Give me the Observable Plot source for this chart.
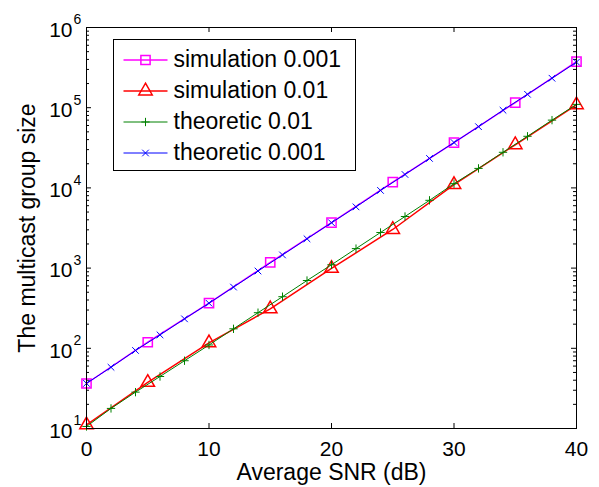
<!DOCTYPE html>
<html>
<head>
<meta charset="utf-8">
<script src="https://cdn.jsdelivr.net/npm/d3@7"></script>
<script src="https://cdn.jsdelivr.net/npm/@observablehq/plot@0.6"></script>
<style>
  html, body { margin: 0; padding: 0; background: white; }
  #chart { width: 599px; height: 487px; }
</style>
</head>
<body>
<div id="chart"></div>
<script>
// ---- data ----
const xSim = [0, 5, 10, 15, 20, 25, 30, 35, 40];
const sim001 = [36.4, 119, 365, 1175, 3700, 11800, 36800, 116000, 376000];
const sim01 = [11.1, 37.5, 117, 310, 990, 3030, 11000, 34500, 108700];

const xTheo = [0, 2, 4, 6, 8, 10, 12, 14, 16, 18, 20, 22, 24, 26, 28, 30, 32, 34, 36, 38, 40];
const theo01 = [10.6, 17.8, 28.4, 44.5, 70, 110, 175, 278, 440, 700, 1100, 1750, 2780, 4400, 7000, 11300, 17500, 27800, 44000, 70000, 110000];
const theo001 = [36.5, 58, 94, 147, 233, 365, 580, 920, 1460, 2320, 3680, 5800, 9300, 14700, 23300, 36800, 58000, 93000, 147000, 233000, 370000];

const seriesNames = ["simulation 0.001", "simulation 0.01", "theoretic 0.01", "theoretic 0.001"];
const seriesColors = ["#ff00ff", "#ff0000", "#008000", "#0000ff"];

const xTickValues = [0, 10, 20, 30, 40];
const xTickLabels = ["0", "10", "20", "30", "40"];
const yTickValues = [10, 100, 1000, 10000, 100000, 1000000];
const yTickBase = "10";
const yTickExponents = ["1", "2", "3", "4", "5", "6"];
const xLabel = "Average SNR (dB)";
const yLabel = "The multicast group size";

// ---- tables ----
const tSim001 = xSim.map((x, i) => ({x, y: sim001[i]}));
const tSim01 = xSim.map((x, i) => ({x, y: sim01[i]}));
const tTheo01 = xTheo.map((x, i) => ({x, y: theo01[i]}));
const tTheo001 = xTheo.map((x, i) => ({x, y: theo001[i]}));
const yMinor = [1, 2, 3, 4, 5].flatMap(k => [2, 3, 4, 5, 6, 7, 8, 9].map(m => m * Math.pow(10, k)));
const yTickTable = yTickValues.map((v, i) => ({v, e: yTickExponents[i]}));
const xTickTable = xTickValues.map((v, i) => ({v, t: xTickLabels[i]}));

const W = 599, H = 487, ML = 86, MR = 23, MT = 27, MB = 59;
const FW = W - ML - MR, FH = H - MT - MB;
const font = "Liberation Sans, Arial, Helvetica, sans-serif";

const markerStyles = [
  {symbol: "square", r: 5.2, strokeWidth: 1.5, lineWidth: 1.5},
  {symbol: "triangle", r: 5.0, strokeWidth: 1.5, lineWidth: 1.5},
  {symbol: "plus", r: 2.8, strokeWidth: 1, lineWidth: 1},
  {symbol: "times", r: 3.1, strokeWidth: 1, lineWidth: 1}
];
const tables = [tSim001, tSim01, tTheo01, tTheo001];

const marks = [];
// ticks (inward, box style)
marks.push(Plot.tickY(yTickValues, {y: d => d, insetRight: FW - 5, stroke: "black"}));
marks.push(Plot.tickY(yTickValues, {y: d => d, insetLeft: FW - 5, stroke: "black"}));
marks.push(Plot.tickY(yMinor, {y: d => d, insetRight: FW - 3, stroke: "black"}));
marks.push(Plot.tickY(yMinor, {y: d => d, insetLeft: FW - 3, stroke: "black"}));
marks.push(Plot.tickX(xTickValues, {x: d => d, insetTop: FH - 5, stroke: "black"}));
marks.push(Plot.tickX(xTickValues, {x: d => d, insetBottom: FH - 5, stroke: "black"}));

// series
tables.forEach((t, i) => {
  const s = markerStyles[i];
  marks.push(Plot.line(t, {x: "x", y: "y", stroke: seriesColors[i], strokeWidth: s.lineWidth}));
  marks.push(Plot.dot(t, {x: "x", y: "y", symbol: s.symbol, r: s.r, stroke: seriesColors[i], fill: "none", strokeWidth: s.strokeWidth}));
});

// frame
marks.push(Plot.frame({stroke: "black", strokeWidth: 1}));

// tick labels
marks.push(Plot.text(xTickTable, {x: "v", text: "t", frameAnchor: "bottom", dy: 21, lineAnchor: "middle", textAnchor: "middle", fontSize: 21, fill: "black"}));
marks.push(Plot.text(yTickTable, {y: "v", text: () => yTickBase, frameAnchor: "left", dx: -14, dy: 2.5, lineAnchor: "middle", textAnchor: "end", fontSize: 21, fill: "black"}));
marks.push(Plot.text(yTickTable, {y: "v", text: "e", frameAnchor: "left", dx: -13, dy: -7.5, lineAnchor: "middle", textAnchor: "start", fontSize: 14, fill: "black"}));

// axis labels
marks.push(Plot.text([xLabel], {text: d => d, frameAnchor: "bottom", dy: 44, lineAnchor: "middle", textAnchor: "middle", fontSize: 23, fill: "black"}));
marks.push(Plot.text([yLabel], {text: d => d, frameAnchor: "left", dx: -59, rotate: -90, lineAnchor: "middle", textAnchor: "middle", fontSize: 23, fill: "black"}));

// legend
marks.push(Plot.frame({insetLeft: 27, insetTop: 12, insetRight: FW - 269, insetBottom: FH - 143, fill: "white", stroke: "black", strokeWidth: 1}));
const lineSymbol = {draw(ctx) { ctx.moveTo(-22, 0); ctx.lineTo(22, 0); }};
const rowDy = [32.5, 63.5, 94.5, 125.5];
seriesNames.forEach((name, i) => {
  const s = markerStyles[i];
  marks.push(Plot.dot([name], {frameAnchor: "top-left", dx: 59, dy: rowDy[i], symbol: lineSymbol, r: 5, stroke: seriesColors[i], fill: "none", strokeWidth: s.lineWidth}));
  marks.push(Plot.dot([name], {frameAnchor: "top-left", dx: 59, dy: rowDy[i], symbol: s.symbol, r: s.r, stroke: seriesColors[i], fill: "none", strokeWidth: s.strokeWidth}));
  marks.push(Plot.text([name], {text: d => d, frameAnchor: "top-left", dx: 87, dy: rowDy[i], lineAnchor: "middle", textAnchor: "start", fontSize: 23, fill: "black"}));
});

const chart = Plot.plot({
  width: W,
  height: H,
  marginLeft: ML,
  marginRight: MR,
  marginTop: MT,
  marginBottom: MB,
  style: {fontFamily: font, background: "white", color: "black", overflow: "visible"},
  x: {domain: [0, 40], axis: null},
  y: {type: "log", domain: [10, 1e6], axis: null},
  marks
});
document.getElementById("chart").appendChild(chart);
</script>
</body>
</html>
